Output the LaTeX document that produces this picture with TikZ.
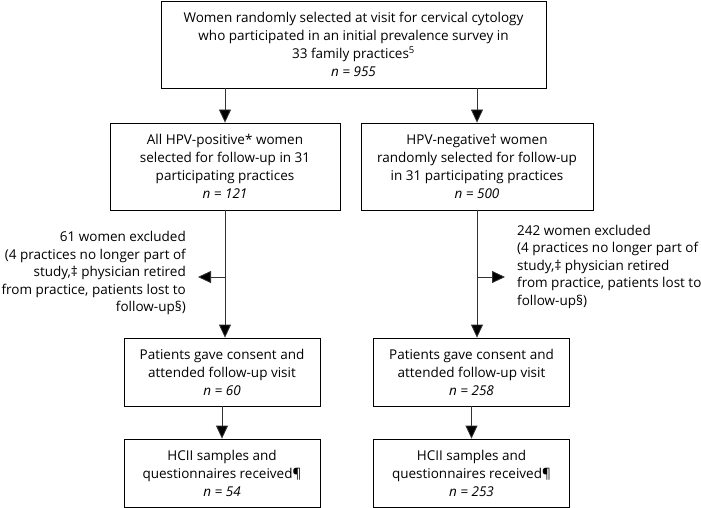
\documentclass[tikz,border=0pt]{standalone}
\usepackage{fontspec}
\setmainfont{Open Sans}
\usetikzlibrary{arrows.meta}
\tikzset{
  box/.style={draw=black, line width=0.8pt, rectangle, align=center, inner sep=0pt,
    font=\fontsize{13.5}{18}\selectfont},
  note/.style={inner xsep=12pt, inner ysep=0pt, font=\fontsize{13.5}{17.5}\selectfont},
  arr/.style={draw=black!80, line width=0.8pt, -{Triangle[length=13pt,width=12pt,fill=black]}},
}
\begin{document}
\begin{tikzpicture}[x=1pt,y=-1pt]
\useasboundingbox (0,0) rectangle (701,508);
\node[box, minimum width=385pt, minimum height=87pt] (top) at (353.5,44.5)
  {Women randomly selected at visit for cervical cytology\\
   who participated in an initial prevalence survey in\\
   33 family practices\textsuperscript{5}\\ \textit{n = 955}};
\node[box, minimum width=230pt, minimum height=87pt] (pos) at (225,166.5)
  {All HPV-positive* women\\ selected for follow-up in 31\\ participating practices\\ \textit{n = 121}};
\node[box, minimum width=232pt, minimum height=87pt] (neg) at (477,166.5)
  {HPV-negative† women\\ randomly selected for follow-up\\ in 31 participating practices\\ \textit{n = 500}};
\node[box, minimum width=196pt, minimum height=68pt] (posc) at (222,372)
  {Patients gave consent and\\ attended follow-up visit\\ \textit{n = 60}};
\node[box, minimum width=196pt, minimum height=68pt] (negc) at (471.5,372)
  {Patients gave consent and\\ attended follow-up visit\\ \textit{n = 258}};
\node[box, minimum width=196pt, minimum height=68pt] (posh) at (222,473)
  {HCII samples and\\ questionnaires received¶\\ \textit{n = 54}};
\node[box, minimum width=196pt, minimum height=68pt] (negh) at (471.5,473)
  {HCII samples and\\ questionnaires received¶\\ \textit{n = 253}};
\node[note, align=right, anchor=east] (exl) at (198,273)
  {61 women excluded\\ (4 practices no longer part of\\ study,‡ physician retired\\ from practice, patients lost to\\ follow-up§)};
\node[note, align=left, anchor=west] (exr) at (505,266.5)
  {242 women excluded\\ (4 practices no longer part of\\ study,‡ physician retired\\ from practice, patients lost to\\ follow-up§)};
\coordinate (jl) at (225,277);
\coordinate (jr) at (477,277);
\draw[arr] (top.south -| pos.north) -- (pos.north);
\draw[arr] (top.south -| neg.north) -- (neg.north);
\draw[arr] (pos.south) -- (posc.north -| pos.south);
\draw[arr] (neg.south) -- (negc.north -| neg.south);
\draw[arr] (jl) -- (exl.east |- jl);
\draw[arr] (jr) -- (exr.west |- jr);
\draw[arr] (posc.south) -- (posh.north);
\draw[arr] (negc.south) -- (negh.north);
\end{tikzpicture}
\end{document}
